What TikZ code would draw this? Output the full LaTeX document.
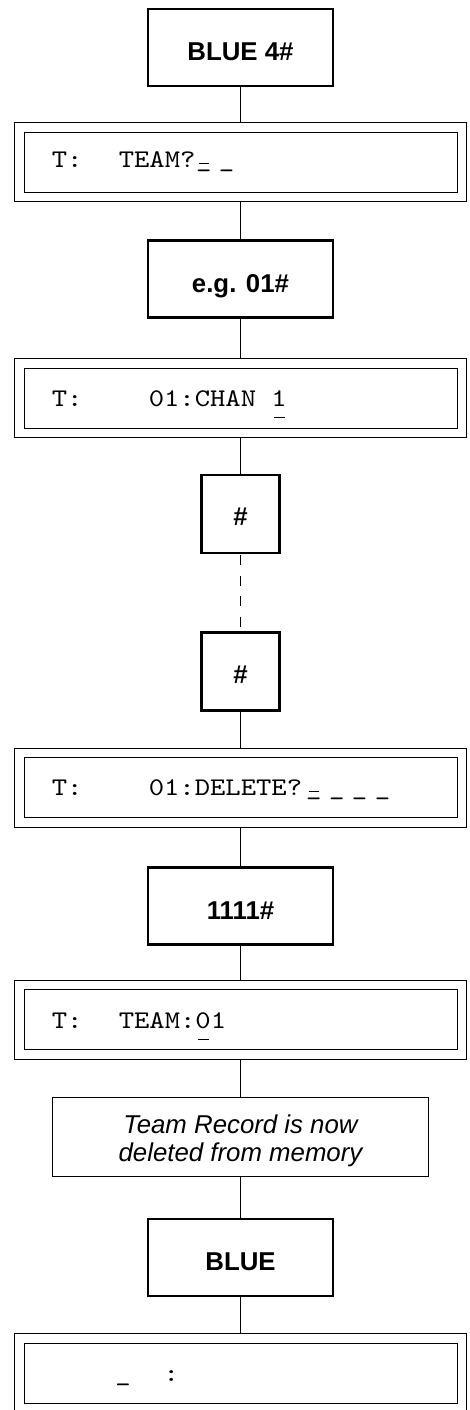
\documentclass[tikz,border=0pt]{standalone}
\usepackage{fontspec}
\newfontfamily\keyfont{Liberation Sans}
\newfontfamily\dispfont{lmmono10-regular.otf}[FakeStretch=1.15]
% placeholder marks on the display: a blank, a blank under the cursor,
% and a character under the cursor
\newcommand\blank{\_}
\newcommand\curblank{\rlap{\hspace{1.3pt}\rule[1.6pt]{5pt}{0.55pt}}\_}
\newcommand\curchar[1]{\rlap{\hspace{1.3pt}\rule[-6.2pt]{5.4pt}{0.6pt}}#1}
\tikzset{
  keybox/.style={draw, line width=1.15pt, minimum width=92.5pt, minimum height=38.5pt,
    inner sep=0pt, text height=13pt, text depth=0pt,
    font=\keyfont\bfseries\fontsize{12.9}{15}\selectfont},
  hashbox/.style={keybox, minimum width=39pt, minimum height=39pt, text height=11.5pt},
  display/.style={draw, line width=0.5pt, double, double distance=4.25pt,
    minimum width=221.25pt, minimum height=34.75pt, inner sep=0pt, outer sep=2.625pt},
  disptext/.style={anchor=base west, inner sep=0pt,
    font=\dispfont\fontsize{12.7}{15}\selectfont},
  notebox/.style={draw, line width=0.5pt, minimum width=188pt, minimum height=39.5pt,
    inner sep=0pt, align=center, text height=26pt, text depth=2pt,
    font=\keyfont\itshape\fontsize{12.9}{14}\selectfont},
  link/.style={line width=0.5pt},
  dashlink/.style={line width=0.8pt, dash pattern=on 5pt off 5.25pt, dash phase=-0.5pt},
}
\begin{document}
\begin{tikzpicture}[x=0.5pt, y=-0.5pt]
\clip (0,0) rectangle (470,1410);
% key presses and display states
\node[keybox] (blue4) at (240.5,47.5) {BLUE 4\#};
\node[display] (d1) at (240.5,162) {};
\node[keybox] (eg) at (240.5,279) {e.g. 01\#};
\node[display] (d2) at (240.5,398) {};
\node[hashbox] (h1) at (240.5,514) {\#};
\node[hashbox] (h2) at (240.5,671.5) {\#};
\node[display] (d3) at (240.5,787.5) {};
\node[keybox] (k1111) at (240.5,906) {1111\#};
\node[display] (d4) at (240.5,1019.5) {};
\node[notebox] (note) at (240.5,1137) {Team Record is now\\deleted from memory};
\node[keybox] (blue) at (240.5,1257.5) {BLUE};
\node[display] (d5) at (240.5,1373) {};
% display contents
\node[disptext] (t1) at (51.5,167) {T:\hspace{18.1pt}TEAM?\hspace{0.3pt}\curblank\hspace{3.8pt}\blank};
\node[disptext] (t2) at (51.5,406) {T:\hspace{33.1pt}01:CHAN \curchar{1}};
\node[disptext] (t3) at (51.5,795) {T:\hspace{33.1pt}01:DELETE?\hspace{2pt}\curblank\hspace{3.8pt}\blank\hspace{3.8pt}\blank\hspace{3.8pt}\blank};
\node[disptext] (t4) at (51.5,1028) {T:\hspace{18.1pt}TEAM:\curchar{0}1};
\node[disptext] (t5) at (115,1381) {\_\hspace{16.5pt}:};
% connectors
\draw[link] (blue4.south) -- (d1.north);
\draw[link] (d1.south) -- (eg.north);
\draw[link] (eg.south) -- (d2.north);
\draw[link] (d2.south) -- (h1.north);
\draw[dashlink] (h1.south) -- (h2.north);
\draw[link] (h2.south) -- (d3.north);
\draw[link] (d3.south) -- (k1111.north);
\draw[link] (k1111.south) -- (d4.north);
\draw[link] (d4.south) -- (note.north);
\draw[link] (note.south) -- (blue.north);
\draw[link] (blue.south) -- (d5.north);
\end{tikzpicture}
\end{document}
